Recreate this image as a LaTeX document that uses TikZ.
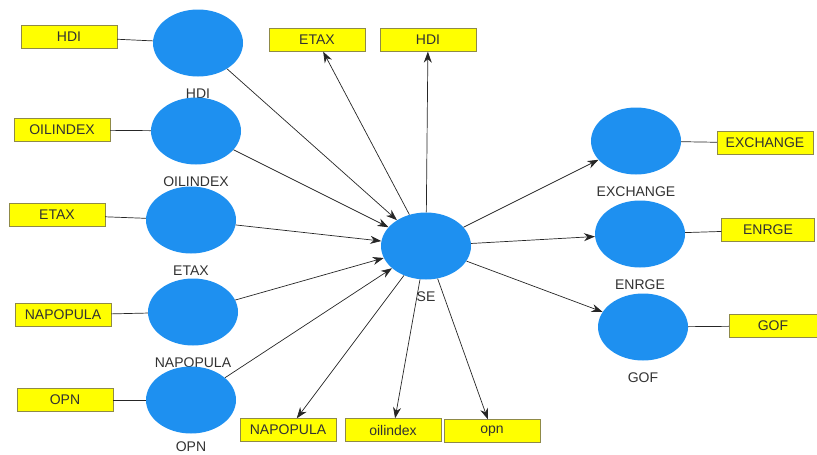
\documentclass[tikz,border=0pt]{standalone}
\usepackage{fontspec}
\setmainfont{Liberation Sans}
\usetikzlibrary{arrows.meta,shapes.geometric}
\definecolor{lvblue}{RGB}{30,144,240}
\definecolor{mvyellow}{RGB}{255,255,0}
\definecolor{txtgray}{RGB}{50,50,50}

\begin{document}
\begin{tikzpicture}[x=1pt,y=1pt,
    lv/.style={ellipse,fill=lvblue,minimum width=90pt,minimum height=67pt,inner sep=0pt},
    mv/.style={rectangle,fill=mvyellow,draw=yellow!50!black,line width=0.4pt,minimum width=96pt,minimum height=23pt,inner sep=0pt,font=\fontsize{14}{16}\selectfont,text=txtgray},
    lbl/.style={inner sep=0pt,label distance=12pt,font=\fontsize{14}{16}\selectfont,text=txtgray},
    path/.style={->,>={Stealth[length=11pt,width=8pt]},line width=0.7pt,black!85},
    link/.style={line width=0.7pt,black!85}]
    \useasboundingbox(0,0)rectangle(817,-455);
    % latent variables
    \node[lv,label={[lbl]below:HDI}](hdi)at(198,-43){};
    \node[lv,label={[lbl]below:OILINDEX}](oil)at(196,-131){};
    \node[lv,label={[lbl]below:ETAX}](etax)at(191,-220){};
    \node[lv,label={[lbl]below:NAPOPULA}](napo)at(193,-312){};
    \node[lv,label={[lbl,label distance=8pt]below:OPN}](opn)at(191,-400){};
    \node[lv,label={[lbl]below:SE}](se)at(426,-246){};
    \node[lv,label={[lbl]below:EXCHANGE}](exch)at(636,-141){};
    \node[lv,label={[lbl]below:ENRGE}](enrge)at(640,-234){};
    \node[lv,label={[lbl]below:GOF}](gof)at(643,-327){};
    % indicators
    \node[mv](hdiB)at(69,-37){HDI};
    \node[mv](oilB)at(62,-130){OILINDEX};
    \node[mv](etaxB)at(57,-215){ETAX};
    \node[mv](napoB)at(63,-315){NAPOPULA};
    \node[mv](opnB)at(65,-400){OPN};
    \node[mv](etaxT)at(317,-40){ETAX};
    \node[mv](hdiT)at(428,-40){HDI};
    \node[mv](napoD)at(288,-430){NAPOPULA};
    \node[mv](oilD)at(393,-430){oilindex};
    \node[mv](opnD)at(492,-431){opn};
    \node[mv](exchB)at(765,-143){EXCHANGE};
    \node[mv,minimum width=93pt](enrgeB)at(768,-230){ENRGE};
    \node[mv,minimum width=88pt](gofB)at(773,-326){GOF};
    % outer links
    \draw[link](hdiB)--(hdi);
    \draw[link](oilB)--(oil);
    \draw[link](etaxB)--(etax);
    \draw[link](napoB)--(napo);
    \draw[link](opnB)--(opn);
    \draw[link](exch)--(exchB);
    \draw[link](enrge)--(enrgeB);
    \draw[link](gof)--(gofB);
    % paths
    \foreach \src in {hdi,oil,etax,napo,opn}
      \draw[path](\src)--(se);
    \foreach \dst in {etaxT,hdiT,napoD,oilD,opnD,exch,enrge,gof}
      \draw[path](se)--(\dst);
\end{tikzpicture}
\end{document}
